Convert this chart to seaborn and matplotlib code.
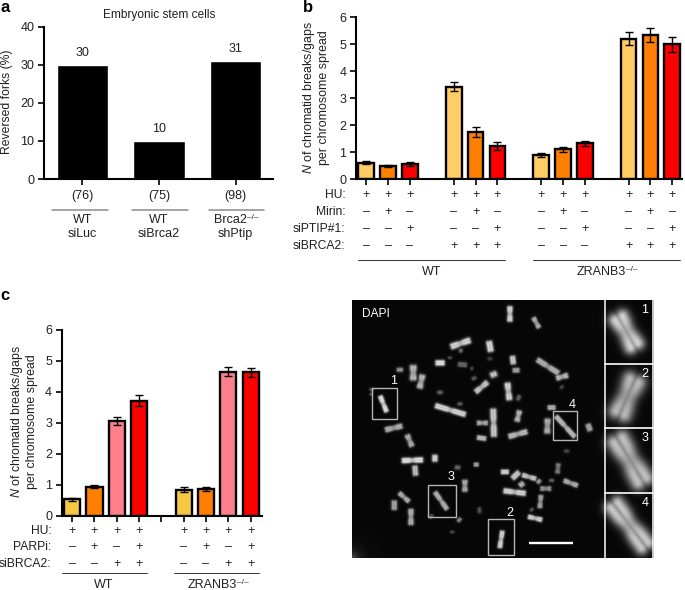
"""Fork reversal and chromatid break panels with DAPI spread."""

import numpy as np
import pandas as pd
import matplotlib
matplotlib.use('Agg')
import matplotlib.pyplot as plt
from matplotlib.patches import Rectangle
from matplotlib.transforms import Affine2D, blended_transform_factory
import seaborn as sns

## SETTINGS
W, H = 685, 590
TEXT = '#231f20'
LIGHT_ORANGE = '#ffcc66'
YELLOW = '#f5c842'
ORANGE = '#ff8000'
PINK = '#ff7f8c'
RED = '#ff0000'
KNOCKOUT = '\u2013/\u2013'

## DATA
# Panel a
a_groups = ['WT siLuc', 'WT siBrca2', 'Brca2 shPtip']
a_values = [30, 10, 31]
a_counts = ['(76)', '(75)', '(98)']
a_top = ['WT', 'WT', 'Brca2']
a_bottom = ['siLuc', 'siBrca2', 'shPtip']

# Panel b
b_values = [0.60, 0.48, 0.55, 3.42, 1.75, 1.23, 0.90, 1.10, 1.32, 5.20, 5.35, 5.00]
b_errors = [0.05, 0.05, 0.07, 0.17, 0.18, 0.15, 0.07, 0.10, 0.10, 0.24, 0.25, 0.27]
b_colors = [LIGHT_ORANGE, ORANGE, RED] * 4
b_hu = list('++++++++++++')
b_mirin = list('-+--+--+--+-')
b_ptip = list('--+--+--+--+')
b_brca2 = list('---+++---+++')

# Panel c
c_values = [0.53, 0.93, 3.06, 3.72, 0.84, 0.86, 4.65, 4.63]
c_errors = [0.05, 0.05, 0.12, 0.17, 0.08, 0.06, 0.14, 0.14]
c_colors = [YELLOW, ORANGE, PINK, RED] * 2
c_hu = list('++++++++')
c_parpi = list('-+-+-+-+')
c_brca2 = list('--++--++')

# Micrograph: chromosome arms as (x0, y0, x1, y1, brightness, width)
chromosomes = [
    (495, 52, 495, 90, .85, 8), (567, 85, 581, 110, .7, 7), (322, 168, 372, 151, .85, 9),
    (345, 181, 350, 181, .4, 6), (433, 157, 437, 180, .85, 9), (276, 218, 295, 218, .9, 8),
    (315, 202, 315, 203, .3, 6), (343, 222, 362, 224, .4, 7), (380, 235, 382, 235, .3, 5),
    (435, 205, 435, 206, .25, 7), (503, 201, 505, 218, .8, 8), (507, 240, 520, 240, .65, 7),
    (580, 210, 638, 247, .7, 8), (638, 263, 665, 256, .75, 8), (650, 290, 651, 291, .3, 6),
    (165, 238, 165, 239, .65, 9), (205, 230, 205, 265, .75, 10), (232, 258, 225, 290, .75, 9),
    (80, 297, 80, 298, .4, 6), (78, 311, 79, 312, .35, 5), (107, 320, 124, 362, .9, 7),
    (285, 306, 285, 307, .4, 8), (387, 263, 388, 265, .35, 7), (445, 250, 447, 255, .8, 10),
    (425, 278, 395, 303, .8, 8), (488, 282, 493, 325, .85, 9), (520, 322, 522, 323, .4, 8),
    (275, 347, 358, 372, .85, 8), (345, 340, 345, 342, .35, 7), (612, 352, 628, 352, .7, 7),
    (608, 390, 607, 425, .7, 9), (635, 380, 688, 438, .75, 7), (730, 405, 735, 418, .65, 8),
    (445, 360, 447, 435, .8, 9), (523, 365, 517, 390, .75, 8), (400, 398, 425, 398, .7, 7),
    (400, 442, 420, 445, .75, 7), (495, 438, 543, 425, .75, 8), (125, 418, 168, 408, .7, 8),
    (188, 437, 200, 465, .7, 8), (175, 511, 230, 509, .9, 8), (210, 530, 212, 552, .75, 8),
    (270, 498, 270, 510, .85, 8), (338, 530, 338, 533, .4, 8), (390, 523, 398, 523, .65, 6),
    (665, 482, 665, 483, .3, 7), (640, 523, 638, 546, .5, 7), (472, 545, 488, 545, .85, 7),
    (505, 562, 520, 548, .8, 8), (535, 555, 570, 565, .8, 7), (528, 580, 532, 585, .7, 8),
    (580, 572, 583, 575, .6, 7), (620, 570, 620, 571, .4, 7), (590, 595, 615, 595, .6, 7),
    (660, 572, 695, 585, .7, 7), (480, 602, 538, 609, .85, 8), (588, 618, 585, 650, .65, 7),
    (560, 658, 561, 659, .35, 6), (553, 680, 588, 688, .85, 7), (360, 573, 360, 600, .7, 8),
    (165, 610, 190, 632, .7, 7), (148, 635, 148, 655, .65, 8), (198, 660, 198, 700, .7, 8),
    (272, 608, 305, 655, .7, 7), (258, 678, 259, 679, .35, 7), (342, 688, 344, 690, .55, 7),
    (403, 660, 404, 660, .35, 8), (322, 725, 322, 726, .3, 6), (472, 725, 465, 770, .85, 7),
]

# Magnified chromosomes in the inset column
inset_arms = [
    (822, 84, 868, 165, .8, 30),
    (868, 272, 826, 368, .7, 34),
    (820, 450, 892, 570, .72, 34),
    (808, 645, 900, 765, .75, 30),
]

dapi_boxes = [(80, 293, 155, 387), (428, 688, 508, 794), (248, 584, 332, 682), (625, 364, 695, 449)]
box_labels = [('1', 147, 272), ('2', 495, 668), ('3', 318, 562), ('4', 683, 345)]
inset_labels = [('1', 900, 60), ('2', 900, 252), ('3', 900, 445), ('4', 900, 640)]


def px_axes(fig, left, top, right, bottom):
    """Add an axes from pixel edges, measured from the top left."""

    return fig.add_axes([left / W, 1 - bottom / H, (right - left) / W, (bottom - top) / H])


def style_axes(ax, yticks):
    """Apply the heavy black axis look used in the graphs."""

    sns.despine(ax=ax)
    for side in ['left', 'bottom']:
        ax.spines[side].set_linewidth(1.5)
        ax.spines[side].set_color('black')
    ax.set_yticks(yticks)
    ax.tick_params(axis='both', length=4.4, width=1.2, color='black', labelcolor=TEXT,
                   labelsize=9, pad=2.5)
    ax.set(xlabel=None, ylabel=None)


def bars_with_errors(ax, xpos, values, errors, colors, width):
    """Draw outlined bars with error bars at numeric positions."""

    sns.barplot(x=xpos, y=values, hue=xpos, palette=colors, width=width, native_scale=True,
                dodge=False, saturation=1, edgecolor='black', linewidth=1.7, legend=False, ax=ax)
    ax.errorbar(xpos, values, yerr=errors, fmt='none', ecolor='black', elinewidth=1,
                capsize=3.2, capthick=1, zorder=5)


def sign_table(ax, to_px, xpos, names, rows, tops, label_x):
    """Write the +/- condition rows beneath a graph."""

    tf = blended_transform_factory(ax.transData, to_px)
    for name, row, top in zip(names, rows, tops):
        fig.text(label_x, top, name, transform=to_px, ha='right', va='center',
                 fontsize=8.7, color=TEXT)
        for xval, sign in zip(xpos, row):
            ax.text(xval, top, '+' if sign == '+' else '\u2013', transform=tf, ha='center',
                    va='center', fontsize=9, color=TEXT, clip_on=False)


def render_arms(arms, xgrid, ygrid):
    """Render chromosomes as soft paired strands with a pinched middle."""

    image = np.zeros(xgrid.shape)
    for x0, y0, x1, y1, level, width in arms:
        dx, dy = x1 - x0, y1 - y0
        length = max(np.hypot(dx, dy), 1e-6)
        frac = np.clip(((xgrid - x0) * dx + (ygrid - y0) * dy) / length ** 2, 0, 1)
        along = np.hypot(xgrid - x0 - frac * dx, ygrid - y0 - frac * dy)
        # signed distance across the chromosome axis
        across = ((xgrid - x0) * dy - (ygrid - y0) * dx) / length
        ends = np.hypot(along, across)
        core = np.sqrt(np.maximum(along ** 2 - across ** 2, 0))
        split = width * 0.42
        pinch = 1 - 0.35 * np.exp(-((frac - 0.5) * length / (width * 0.9)) ** 2) * (length > 3 * width)
        left = np.exp(-((np.hypot(core, across - split * pinch)) / (width * 0.72)) ** 2)
        right = np.exp(-((np.hypot(core, across + split * pinch)) / (width * 0.72)) ** 2)
        image = np.maximum(image, level * pinch ** 0.5 * np.maximum(left, right) * (ends < width * 3))
    return image


def knockout(ax_text):
    """Attach the small -/- superscript after a gene or cell label."""

    ax_text.axes.annotate(KNOCKOUT, xy=(1, 0.72), xycoords=ax_text, fontsize=6,
                          color=TEXT, ha='left', va='center', annotation_clip=False)


sns.set_theme(style='ticks')
plt.rcParams['font.family'] = ['Liberation Sans', 'DejaVu Sans']
plt.rcParams['mathtext.fontset'] = 'custom'
plt.rcParams['mathtext.rm'] = 'Liberation Sans'
plt.rcParams['mathtext.it'] = 'Liberation Sans:italic'
plt.rcParams['mathtext.default'] = 'regular'

fig = plt.figure(figsize=(W / 100, H / 100), dpi=100, facecolor='white')
to_px = Affine2D().scale(1 / W, -1 / H).translate(0, 1) + fig.transFigure


def put(x, y, text, **kwargs):
    """Place figure text at a pixel position."""

    kwargs.setdefault('ha', 'center')
    kwargs.setdefault('va', 'center')
    kwargs.setdefault('fontsize', 9)
    kwargs.setdefault('color', TEXT)
    return fig.text(x, y, text, transform=to_px, **kwargs)


def rule(x0, x1, y, color='#333333', lw=0.7):
    """Draw a horizontal bracket line at pixel positions."""

    fig.add_artist(plt.Line2D([x0, x1], [y, y], transform=to_px, color=color, lw=lw))


## Panel a
ax_a = px_axes(fig, 44, 26.7, 273, 179)
df_a = pd.DataFrame({'group': a_groups, 'value': a_values})
sns.barplot(df_a, x='group', y='value', color='black', saturation=1, width=0.667, ax=ax_a)
ax_a.set_xlim(-0.503, 2.49)
ax_a.set_ylim(0, 40)
style_axes(ax_a, [0, 10, 20, 30, 40])
ax_a.set_xticks(range(3))
ax_a.set_xticklabels([])
for ind, val in enumerate(a_values):
    ax_a.annotate(str(val), (ind, val), xytext=(0, 6), textcoords='offset pixels',
                  ha='center', va='bottom', fontsize=9, color=TEXT)
put(159, 15, 'Embryonic stem cells', fontsize=8.6)
put(7, 102, 'Reversed forks (%)', rotation=90, fontsize=8.7)
tf_a = blended_transform_factory(ax_a.transData, to_px)
for ind in range(3):
    ax_a.text(ind, 196, a_counts[ind], transform=tf_a, ha='center', va='center',
              fontsize=9, color=TEXT)
    top_text = ax_a.text(ind - 0.07 * (ind == 2), 220, a_top[ind], transform=tf_a, ha='center',
                         va='center', fontsize=9, color=TEXT)
    if a_top[ind] == 'Brca2':
        knockout(top_text)
    ax_a.text(ind, 234, a_bottom[ind], transform=tf_a, ha='center', va='center',
              fontsize=9, color=TEXT)
for x0, x1 in [(52, 108), (132, 188), (209, 264)]:
    rule(x0, x1, 210, color='#8c8c8c', lw=1.1)

## Panel b
b_pos = np.arange(len(b_values)) + np.arange(len(b_values)) // 3
ax_b = px_axes(fig, 356, 17.3, 681.7, 179)
bars_with_errors(ax_b, b_pos, b_values, b_errors, b_colors, 0.72)
ax_b.set_xlim(-0.47, 14.43)
ax_b.set_ylim(0, 6)
style_axes(ax_b, range(7))
ax_b.set_xticks(b_pos)
ax_b.set_xticklabels([])
sign_table(ax_b, to_px, b_pos, ['HU:', 'Mirin:', 'siPTIP#1:', 'siBRCA2:'],
           [b_hu, b_mirin, b_ptip, b_brca2], [194.7, 211.7, 228.7, 246], 345.5)
put(309, 97.5, '$\\mathit{N}$ of chromatid breaks/gaps', rotation=90, fontsize=8.9)
put(324, 97.5, 'per chromosome spread', rotation=90, fontsize=8.9)
rule(358, 505, 260)
rule(533, 680, 260)
put(431.7, 272, 'WT')
ax_b.set_zorder(1)
knockout(ax_b.text(601, 272, 'ZRANB3', transform=to_px, ha='center', va='center',
                   fontsize=9, color=TEXT))

## Panel c
c_pos = np.arange(len(c_values)) + np.arange(len(c_values)) // 4
ax_c = px_axes(fig, 61.7, 330, 261.7, 515.7)
bars_with_errors(ax_c, c_pos, c_values, c_errors, c_colors, 0.72)
ax_c.set_xlim(-0.47, 8.5)
ax_c.set_ylim(0, 6)
style_axes(ax_c, range(7))
ax_c.set_xticks(np.arange(9))
ax_c.set_xticklabels([])
sign_table(ax_c, to_px, c_pos, ['HU:', 'PARPi:', 'siBRCA2:'],
           [c_hu, c_parpi, c_brca2], [530.7, 547.3, 563.7], 51.7)
put(17, 422, '$\\mathit{N}$ of chromatid breaks/gaps', rotation=90, fontsize=8.9)
put(32, 422, 'per chromosome spread', rotation=90, fontsize=8.9)
rule(62, 147, 573)
rule(174, 259, 573)
put(104, 585, 'WT')
knockout(ax_c.text(212.5, 585, 'ZRANB3', transform=to_px, ha='center', va='center',
                   fontsize=9, color=TEXT))

## Micrograph, in 3x crop coordinates
ax_d = px_axes(fig, 345 + 22 / 3, 300, 345 + 928 / 3, 290 + 803 / 3)
xgrid, ygrid = np.meshgrid(np.arange(22, 928, 1.5), np.arange(30, 803, 1.5))
spread = render_arms(chromosomes + inset_arms, xgrid, ygrid)
corner = 0.3 * np.exp(-np.hypot(xgrid - 22, ygrid - 803) / 18)
ax_d.imshow(np.clip(spread + 0.03 + corner, 0, 1), cmap='gray', vmin=0, vmax=1,
            extent=(22, 928, 803, 30), aspect='auto', interpolation='bilinear')
ax_d.set_axis_off()
for xval in [780, 923]:
    ax_d.axvline(xval, color='white', lw=1.1)
for yval in [223, 415, 609]:
    ax_d.plot([780, 923], [yval, yval], color='white', lw=1.2)
for x0, y0, x1, y1 in dapi_boxes:
    ax_d.add_patch(Rectangle((x0, y0), x1 - x0, y1 - y0, fill=False, ec='#b5b5b5', lw=1))
for label, xval, yval in box_labels + inset_labels:
    ax_d.text(xval, yval, label, color='white', ha='center', va='center', fontsize=9)
ax_d.text(92, 72, 'DAPI', color='white', ha='center', va='center', fontsize=8.6)
ax_d.plot([552, 684], [760, 760], color='white', lw=1.7, solid_capstyle='butt')
ax_d.set_xlim(22, 928)
ax_d.set_ylim(803, 30)

## Panel letters
put(5, 8, 'a', fontsize=12, fontweight='bold', color='black')
put(308, 8, 'b', fontsize=12, fontweight='bold', color='black')
put(5, 295, 'c', fontsize=12, fontweight='bold', color='black')

fig.savefig('out.png', dpi=100)
